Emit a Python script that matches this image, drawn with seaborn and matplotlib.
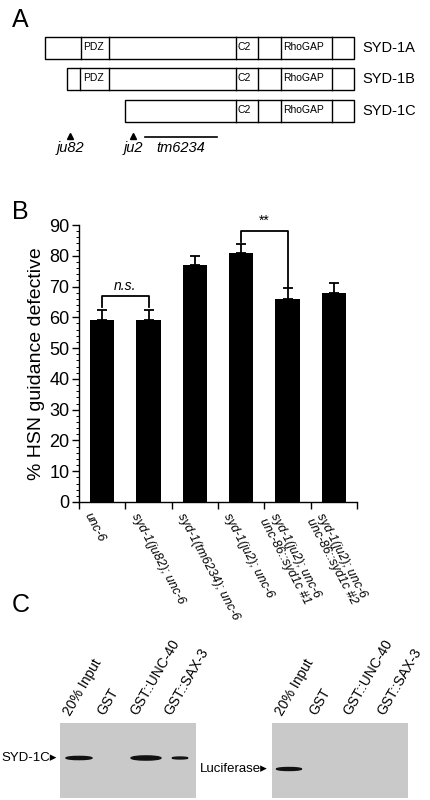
import numpy as np
import pandas as pd
import matplotlib.pyplot as plt
import matplotlib.patches as mpatches
import seaborn as sns

# --- panel B data ---
genotypes = ['unc-6', 'syd-1(ju82); unc-6', 'syd-1(tm6234); unc-6',
             'syd-1(ju2); unc-6', 'syd-1(ju2); unc-6\nunc-86::syd1c #1',
             'syd-1(ju2); unc-6\nunc-86::syd1c #2']
pct_defective = [59, 59, 77, 81, 66, 68]
sem = [3.5, 3.5, 3.0, 2.8, 3.5, 3.0]

# --- panel A domain layout (pixel units of the drawing) ---
isoforms = ['SYD-1A', 'SYD-1B', 'SYD-1C']
iso_start = [45, 67, 125]
iso_end = 354
iso_y = [48, 79, 111]
dividers = [[81, 109, 236, 258, 281, 332],
            [80, 109, 236, 258, 281, 332],
            [236, 258, 281, 332]]
domains = {'PDZ': (81, 109), 'C2': (236, 258), 'RhoGAP': (281, 332)}
iso_domains = [['PDZ', 'C2', 'RhoGAP'], ['PDZ', 'C2', 'RhoGAP'], ['C2', 'RhoGAP']]

# --- panel C lanes ---
lanes = ['20% Input', 'GST', 'GST::UNC-40', 'GST::SAX-3']
blot_x = [60, 272]
lane_x = [[79, 113, 146, 180], [291, 325, 359, 393]]
bands_syd = [1.0, 0.0, 1.3, 0.6]
bands_luc = [1.0, 0.0, 0.0, 0.0]

plt.rcParams['font.family'] = ['Liberation Sans', 'DejaVu Sans']
fig = plt.figure(figsize=(4.3, 8), dpi=100)

# overlay axes in pixel coordinates for panels A and C
ov = fig.add_axes([0, 0, 1, 1])
ov.set_xlim(0, 430)
ov.set_ylim(800, 0)
ov.axis('off')

ov.text(12, 20, 'A', fontsize=18, va='center')
for i, name in enumerate(isoforms):
    y = iso_y[i]
    ov.add_patch(mpatches.Rectangle((iso_start[i], y - 11), iso_end - iso_start[i], 22,
                                    fill=False, lw=1.0))
    for d in dividers[i]:
        ov.plot([d, d], [y - 11, y + 11], color='black', lw=1.0)
    for dn in iso_domains[i]:
        ov.text(domains[dn][0] + 2, y - 1, dn, fontsize=7.5, va='center')
    ov.text(362, y, name, fontsize=10.5, va='center')

ov.plot(70, 136, marker='^', color='black', ms=4)
ov.text(70, 148, 'ju82', fontsize=10.5, style='italic', ha='center', va='center')
ov.plot(133, 136, marker='^', color='black', ms=4)
ov.text(133, 148, 'ju2', fontsize=10.5, style='italic', ha='center', va='center')
ov.plot([145, 217], [137, 137], color='black', lw=1.2)
ov.text(181, 148, 'tm6234', fontsize=10.5, style='italic', ha='center', va='center')

ov.text(12, 212, 'B', fontsize=18, va='center')
ov.text(12, 605, 'C', fontsize=18, va='center')

for b in range(2):
    ov.add_patch(mpatches.Rectangle((blot_x[b], 723), 136, 75, color='#c9c9c9', lw=0))
    for j, lab in enumerate(lanes):
        ov.text(lane_x[b][j] - 6, 718, lab, fontsize=10, rotation=60,
                ha='left', va='bottom', rotation_mode='anchor')
for j, s in enumerate(bands_syd):
    if s > 0:
        ov.add_patch(mpatches.Ellipse((lane_x[0][j], 758), 26 * min(s, 1.15), 3.2 * s,
                                      color='#111111'))
for j, s in enumerate(bands_luc):
    if s > 0:
        ov.add_patch(mpatches.Ellipse((lane_x[1][j] - 2, 769), 25, 3, color='#111111'))
ov.text(1, 758, 'SYD-1C\u25B8', fontsize=9.5, va='center')
ov.text(200, 769, 'Luciferase\u25B8', fontsize=9.5, va='center')

# panel B bar chart
ax = fig.add_axes([79 / 430, 1 - 502 / 800, 278 / 430, 277 / 800])
df = pd.DataFrame({'genotype': genotypes, 'pct': pct_defective})
sns.barplot(data=df, x='genotype', y='pct', color='black', width=0.52,
            errorbar=None, ax=ax, zorder=1)
ax.errorbar(range(len(genotypes)), pct_defective, yerr=[[0] * 6, sem], fmt='none',
            ecolor='black', elinewidth=1.3, capsize=3.5, capthick=1.3, zorder=2)
ax.set_xlim(-0.5, 5.5)
ax.set_ylim(0, 90)
ax.set_yticks(range(0, 91, 10))
ax.set_yticks(range(0, 91, 2), minor=True)
ax.tick_params(axis='y', labelsize=13, length=5, width=1, pad=2)
ax.tick_params(axis='y', which='minor', length=2.5, width=0.7)
ax.set_xticks(np.arange(-0.5, 6, 1))
ax.set_xticklabels([])
ax.tick_params(axis='x', length=5, width=1)
for i, g in enumerate(genotypes):
    ax.text(i - 0.2, -3, g, fontsize=9, style='italic', rotation=-62,
            ha='left', va='top', rotation_mode='anchor',
            transform=ax.transData, linespacing=0.95)
ax.set_xlabel('')
ax.set_ylabel('% HSN guidance defective', fontsize=14, labelpad=3)
for side in ['top', 'right']:
    ax.spines[side].set_visible(False)
for side in ['left', 'bottom']:
    ax.spines[side].set_linewidth(1.0)

# significance brackets
ax.plot([0, 0, 1, 1], [63.5, 67, 67, 63.5], color='black', lw=1.3)
ax.text(0.5, 68, 'n.s.', style='italic', ha='center', va='bottom', fontsize=10)
ax.plot([3, 3, 4, 4], [84.5, 88, 88, 70], color='black', lw=1.3)
ax.text(3.5, 89, '**', ha='center', va='bottom', fontsize=10, clip_on=False)

fig.savefig('out.png', dpi=100)
